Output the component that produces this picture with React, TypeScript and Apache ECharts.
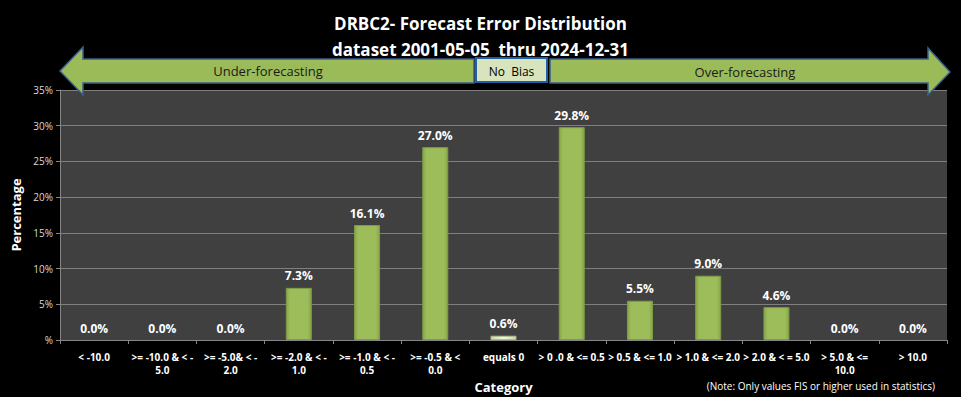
import React, { useEffect, useRef } from "react";
import * as echarts from "echarts";

const categories = [
  "< -10.0",
  ">= -10.0 & < -\n5.0",
  ">= -5.0& < -\n2.0",
  ">= -2.0 & < -\n1.0",
  ">= -1.0 & < -\n0.5",
  ">= -0.5 & <\n0.0",
  "equals 0",
  "> 0 .0 & <= 0.5",
  "> 0.5 & <= 1.0",
  "> 1.0 & <= 2.0",
  "> 2.0 & < = 5.0",
  "> 5.0 & <=\n10.0",
  "> 10.0",
];
const percentages = [0.0, 0.0, 0.0, 7.3, 16.1, 27.0, 0.6, 29.8, 5.5, 9.0, 4.6, 0.0, 0.0];
const yTicks = { min: 0, max: 35, interval: 5 };
const titleLines = ["DRBC2- Forecast Error Distribution", "dataset 2001-05-05  thru 2024-12-31"];
const bannerTexts = { left: "Under-forecasting", mid: "No  Bias", right: "Over-forecasting" };
const noteText = "(Note: Only values FIS or higher used in statistics)";

const FONT = "'Open Sans', 'Noto Sans', sans-serif";

export default function App() {
  const ref = useRef<HTMLDivElement>(null);
  useEffect(() => {
    document.body.style.margin = "0";
    document.body.style.background = "#000";
    const chart = echarts.init(ref.current!, null, { renderer: "svg" });
    const barGrad = new echarts.graphic.LinearGradient(0, 0, 1, 0, [
      { offset: 0, color: "#86a64a" },
      { offset: 0.15, color: "#9dbd5b" },
      { offset: 0.85, color: "#9dbd5b" },
      { offset: 1, color: "#86a64a" },
    ]);
    const paleGrad = new echarts.graphic.LinearGradient(0, 0, 1, 0, [
      { offset: 0, color: "#c8d6a8" },
      { offset: 0.5, color: "#f2f5ea" },
      { offset: 1, color: "#c8d6a8" },
    ]);
    const arrowStyle = { fill: "#9bbb59", stroke: "#3b5f8c", lineWidth: 1.5 };
    chart.setOption({
      animation: false,
      backgroundColor: "#000",
      title: [
        {
          text: titleLines[0],
          left: "center",
          top: 10,
          textStyle: { color: "#fff", fontSize: 17, fontWeight: "bold", fontFamily: FONT },
        },
        {
          text: titleLines[1],
          left: "center",
          top: 36,
          textStyle: { color: "#fff", fontSize: 17, fontWeight: "bold", fontFamily: FONT },
        },
      ],
      grid: {
        left: 60,
        right: 14,
        top: 90,
        bottom: 57,
        show: true,
        backgroundColor: "#404040",
        borderWidth: 0,
        outerBoundsMode: "none",
        containLabel: false,
      },
      xAxis: {
        type: "category",
        data: categories,
        name: "Category",
        nameLocation: "middle",
        nameGap: 37,
        nameTextStyle: { color: "#fff", fontSize: 13, fontWeight: "bold", fontFamily: FONT },
        axisLine: { lineStyle: { color: "#868686" } },
        axisTick: { show: true, length: 4, lineStyle: { color: "#868686" } },
        axisLabel: {
          color: "#fff",
          fontSize: 10,
          fontWeight: "bold",
          fontFamily: FONT,
          margin: 10,
          lineHeight: 13,
          interval: 0,
        },
      },
      yAxis: {
        type: "value",
        min: yTicks.min,
        max: yTicks.max,
        interval: yTicks.interval,
        name: "Percentage",
        nameLocation: "middle",
        nameGap: 38,
        nameTextStyle: { color: "#fff", fontSize: 13, fontWeight: "bold", fontFamily: FONT },
        axisLine: { show: true, lineStyle: { color: "#868686" } },
        axisTick: { show: true, length: 4, lineStyle: { color: "#868686" } },
        splitLine: { lineStyle: { color: "#7f7f7f", width: 1 } },
        axisLabel: {
          color: "#d9d9d9",
          fontSize: 10,
          fontFamily: FONT,
          margin: 7,
          formatter: (v: number) => (v === 0 ? "%" : v + "%"),
        },
      },
      series: [
        {
          type: "bar",
          data: percentages.map((v, i) => ({
            value: v,
            itemStyle:
              i === 6
                ? { color: paleGrad, borderColor: "#a9bf7c" }
                : v === 0
                ? { borderWidth: 0, color: "rgba(0,0,0,0)" }
                : undefined,
          })),
          barWidth: 26,
          itemStyle: { color: barGrad, borderColor: "#7f9c45", borderWidth: 1 },
          label: {
            show: true,
            position: "top",
            distance: 6,
            color: "#fff",
            fontSize: 12,
            fontWeight: "bold",
            fontFamily: FONT,
            formatter: (p: any) => Number(p.value).toFixed(1) + "%",
          },
        },
      ],
      graphic: [
        {
          type: "polygon",
          shape: {
            points: [
              [60, 71], [83, 47], [83, 59], [474, 59], [474, 83], [83, 83], [83, 95],
            ],
          },
          style: arrowStyle,
          z: 10,
        },
        {
          type: "polygon",
          shape: {
            points: [
              [550, 59], [928, 59], [928, 48], [950, 72], [928, 95], [928, 83], [550, 83],
            ],
          },
          style: arrowStyle,
          z: 10,
        },
        {
          type: "rect",
          shape: { x: 476, y: 58, width: 71, height: 24 },
          style: { fill: "#d7e4bd", stroke: "#1f5fa8", lineWidth: 2 },
          z: 11,
        },
        {
          type: "text",
          x: 511.5,
          y: 71,
          style: { text: bannerTexts.mid, fill: "#000", fontSize: 12, fontFamily: FONT, align: "center", verticalAlign: "middle" },
          z: 12,
        },
        {
          type: "text",
          x: 268,
          y: 71,
          style: { text: bannerTexts.left, fill: "#1a1a1a", fontSize: 13, fontFamily: FONT, align: "center", verticalAlign: "middle" },
          z: 12,
        },
        {
          type: "text",
          x: 745,
          y: 72,
          style: { text: bannerTexts.right, fill: "#1a1a1a", fontSize: 13, fontFamily: FONT, align: "center", verticalAlign: "middle" },
          z: 12,
        },
        {
          type: "text",
          x: 935,
          y: 386,
          style: { text: noteText, fill: "#fff", fontSize: 10, fontFamily: FONT, align: "right", verticalAlign: "middle" },
          z: 12,
        },
      ],
    });
    return () => chart.dispose();
  }, []);
  return (
    <div
      ref={ref}
      style={{ position: "absolute", left: 0, top: 0, width: 961, height: 397, background: "#000" }}
    />
  );
}
